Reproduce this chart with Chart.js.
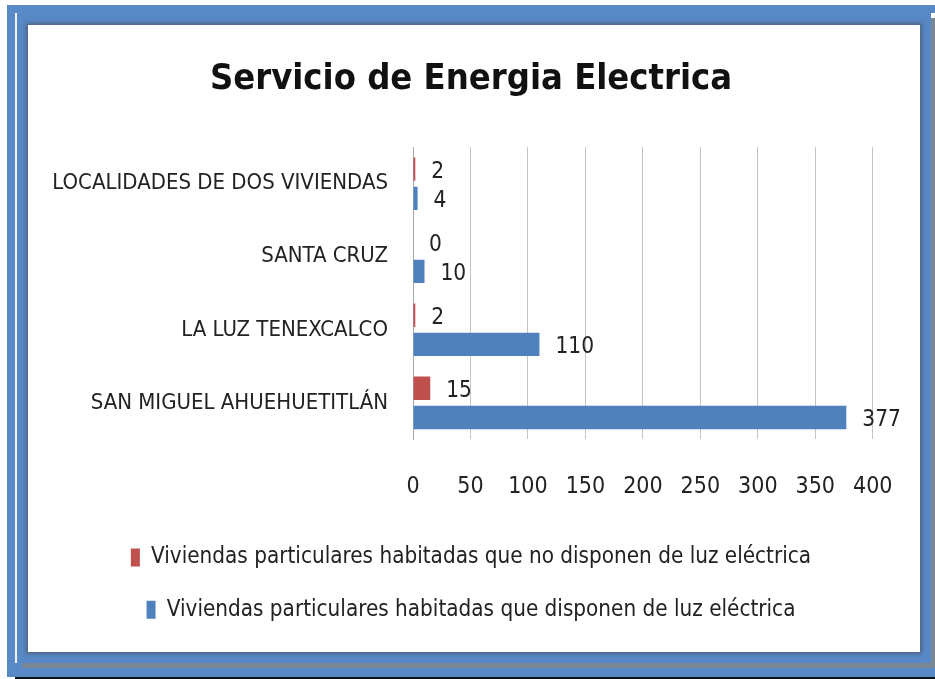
<!DOCTYPE html>
<html>
<head>
<meta charset="utf-8">
<script src="https://cdn.jsdelivr.net/npm/chart.js@4"></script>
<style>
  body { margin: 0; background: #fff; width: 935px; height: 679px; overflow: hidden; position: relative; }
  .frame { position: absolute; left: 7px; top: 5px; width: 928px; height: 672px; background: #5889c7; }
  .line { position: absolute; left: 15px; top: 13px; width: 2px; height: 650px; background: #eef3fb; }
  .shadowB { position: absolute; left: 22px; top: 663px; width: 913px; height: 5px; background: #7c8796; }
  .shadowR { position: absolute; left: 931px; top: 13px; width: 4px; height: 655px; background: #7c8796; }
  .chip { position: absolute; left: 931px; top: 13px; width: 4px; height: 5px; background: #fff; }
  .base { position: absolute; left: 15px; top: 677px; width: 920px; height: 2px; background: #111; }
  .panel { position: absolute; left: 28px; top: 25px; width: 892px; height: 627px; background: #fff;
           box-shadow: 0 0 4px 2px rgba(70,70,70,0.55); }
  canvas { position: absolute; left: 0; top: 0; }
</style>
</head>
<body>
<div class="frame"></div>
<div class="line"></div>
<div class="shadowB"></div>
<div class="shadowR"></div>
<div class="chip"></div>
<div class="base"></div>
<div class="panel"><canvas id="chart" width="892" height="627"></canvas></div>
<script>
const categories = ["LOCALIDADES DE DOS VIVIENDAS", "SANTA CRUZ", "LA LUZ TENEXCALCO", "SAN MIGUEL AHUEHUETITLÁN"];
const sinLuz = [2, 0, 2, 15];
const conLuz = [4, 10, 110, 377];
const xTicks = [0, 50, 100, 150, 200, 250, 300, 350, 400];

const FONT = "'Liberation Sans Narrow', 'DejaVu Sans Condensed', Lato, sans-serif";

// value labels at the end of every bar
const valueLabels = {
  id: "valueLabels",
  afterDatasetsDraw(chart) {
    const ctx = chart.ctx;
    ctx.save();
    ctx.font = "22.5px " + FONT;
    ctx.fillStyle = "#222";
    ctx.textAlign = "left";
    ctx.textBaseline = "middle";
    chart.data.datasets.forEach((ds, i) => {
      chart.getDatasetMeta(i).data.forEach((bar, j) => {
        ctx.fillText(String(ds.data[j]), bar.x + 16, bar.y + 3);
      });
    });
    ctx.restore();
  }
};

new Chart(document.getElementById("chart"), {
  type: "bar",
  data: {
    labels: categories,
    datasets: [
      {
        label: "Viviendas particulares habitadas que no disponen de luz eléctrica",
        data: sinLuz,
        backgroundColor: "#c0504d",
        barPercentage: 0.8,
        categoryPercentage: 0.8
      },
      {
        label: "Viviendas particulares habitadas que disponen de luz eléctrica",
        data: conLuz,
        backgroundColor: "#4f81bd",
        barPercentage: 0.8,
        categoryPercentage: 0.8
      }
    ]
  },
  options: {
    indexAxis: "y",
    responsive: false,
    animation: false,
    layout: { padding: { left: 0, right: 6, top: 0, bottom: 21 } },
    plugins: {
      title: {
        display: true,
        text: "Servicio de Energia Electrica",
        color: "#111",
        font: { family: FONT, size: 36, weight: "bold" },
        padding: { top: 33, bottom: 46 }
      },
      legend: {
        position: "bottom",
        labels: {
          color: "#222",
          font: { family: FONT, size: 22.3 },
          boxWidth: 9,
          boxHeight: 18,
          padding: 30
        }
      },
      tooltip: { enabled: false }
    },
    scales: {
      x: {
        min: 0,
        max: 400,
        afterBuildTicks: (scale) => { scale.ticks = xTicks.map(v => ({ value: v })); },
        afterFit: (scale) => { scale.height = 77; },
        grid: { color: "#c4c4c4", lineWidth: 1, drawTicks: true, tickLength: 6.5, tickColor: "rgba(0,0,0,0)" },
        border: { display: false },
        ticks: { color: "#222", font: { family: FONT, size: 23 }, padding: 27.5 }
      },
      y: {
        afterFit: (scale) => { scale.width = 385; },
        grid: { display: false, drawTicks: true, tickLength: 25 },
        border: { display: true, color: "#a8a8a8" },
        ticks: { color: "#222", font: { family: FONT, size: 22 }, padding: 0 }
      }
    }
  },
  plugins: [valueLabels]
});
</script>
</body>
</html>
